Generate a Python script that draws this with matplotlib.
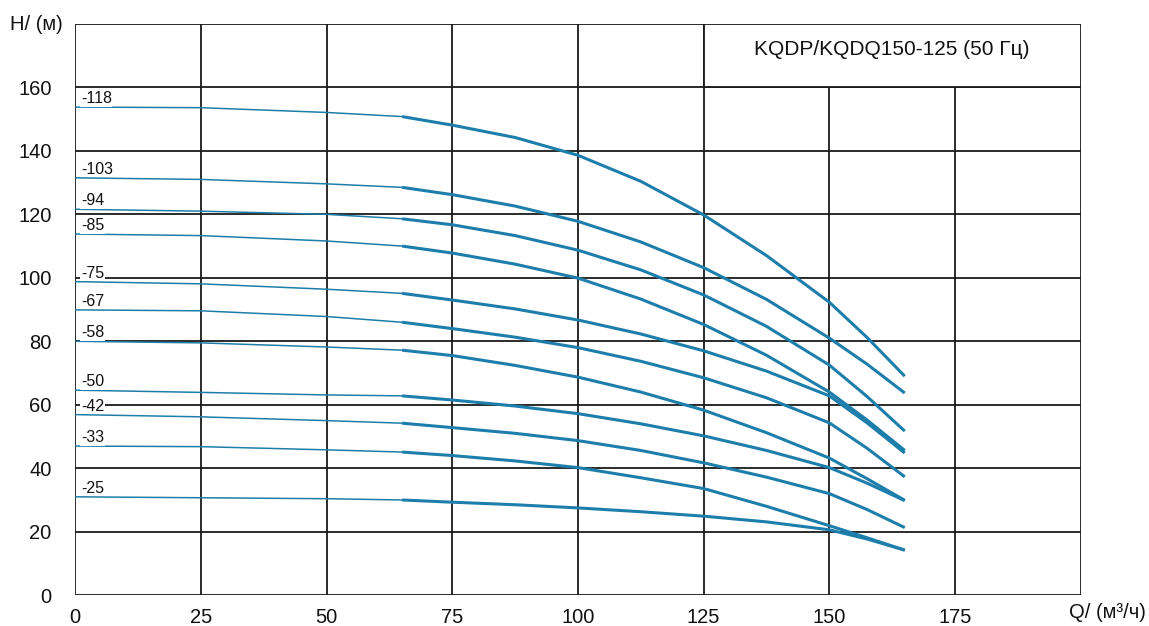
import matplotlib.pyplot as plt
from matplotlib.patches import Rectangle

plt.rcParams['font.family'] = ['Liberation Sans', 'DejaVu Sans']

# расход, м3/ч
q = [0, 25, 50, 65, 75, 87.5, 100, 112.5, 125, 137.5, 150, 157.5, 165]

# напор, м (по кривым)
h_118 = [153.8, 153.6, 152.1, 150.8, 148.1, 144.2, 138.6, 130.4, 119.8, 107.0, 92.3, 81.2, 69.0]
h_103 = [131.5, 131.0, 129.6, 128.5, 126.2, 122.6, 117.8, 111.3, 103.2, 93.2, 81.0, 72.8, 63.7]
h_94 = [121.6, 121.0, 120.0, 118.6, 116.7, 113.3, 108.7, 102.5, 94.6, 84.7, 72.5, 62.6, 51.7]
h_85 = [113.8, 113.3, 111.6, 110.0, 107.8, 104.3, 99.9, 93.3, 85.3, 75.6, 64.0, 55.2, 45.6]
h_75 = [98.8, 98.1, 96.4, 95.1, 93.0, 90.2, 86.7, 82.3, 77.0, 70.6, 62.8, 54.3, 44.8]
h_67 = [89.9, 89.6, 87.8, 86.0, 84.0, 81.3, 78.0, 73.7, 68.5, 62.2, 54.3, 46.3, 37.3]
h_58 = [80.0, 79.5, 78.2, 77.2, 75.5, 72.4, 68.7, 64.0, 58.3, 51.2, 43.2, 36.7, 29.9]
h_50 = [64.6, 63.9, 63.1, 62.8, 61.5, 59.6, 57.2, 54.0, 50.2, 45.6, 40.2, 35.3, 29.8]
h_42 = [56.9, 56.2, 55.0, 54.2, 52.8, 51.0, 48.7, 45.6, 41.7, 37.2, 32.0, 27.0, 21.3]
h_33 = [47.0, 46.8, 45.8, 45.1, 44.0, 42.3, 40.2, 37.0, 33.6, 28.0, 21.9, 18.1, 14.2]
h_25 = [31.0, 30.7, 30.4, 30.0, 29.3, 28.5, 27.5, 26.3, 24.9, 23.1, 20.6, 17.7, 14.2]

names = ['-118', '-103', '-94', '-85', '-75', '-67', '-58', '-50', '-42', '-33', '-25']
curves = [h_118, h_103, h_94, h_85, h_75, h_67, h_58, h_50, h_42, h_33, h_25]

x_ticks = [0, 25, 50, 75, 100, 125, 150, 175, 200]
y_ticks = [0, 20, 40, 60, 80, 100, 120, 140, 160, 180]

fig = plt.figure(figsize=(11.49, 6.26), dpi=100)
ax = fig.add_axes([75.3 / 1149, 30.8 / 626, (1080.7 - 75.3) / 1149, 571.3 / 626])
ax.set_xlim(0, 200)
ax.set_ylim(0, 180)

# сетка
for xv in x_ticks:
    ax.axvline(xv, color='#1a1a1a', lw=1.3, zorder=1)
for yv in y_ticks:
    ax.axhline(yv, color='#1a1a1a', lw=1.3, zorder=1)

# рамка с названием
ax.add_patch(Rectangle((125, 160), 75, 20, facecolor='white', edgecolor='#1a1a1a',
                       lw=1.3, zorder=2))
ax.text(162.5, 172, 'KQDP/KQDQ150-125 (50 Гц)', ha='center', va='center',
        fontsize=15, color='#111111', zorder=3)

color = '#1e7eab'
split = q.index(65)
for name, h in zip(names, curves):
    ax.plot(q[:split + 1], h[:split + 1], color=color, lw=1.1, zorder=4,
            solid_capstyle='butt', solid_joinstyle='round')
    ax.plot(q[split:], h[split:], color=color, lw=2.2, zorder=4,
            solid_capstyle='butt', solid_joinstyle='round')
    ax.text(1.1, h[0] + 2.7, name, ha='left', va='center', fontsize=11.5,
            color='#111111', zorder=5,
            bbox=dict(facecolor='white', edgecolor='none', pad=0.5))

ax.set_xticks(x_ticks[:-1])
ax.set_yticks(y_ticks[:-1])
ax.tick_params(length=0, labelsize=14.5, colors='#111111')
ax.tick_params(axis='y', pad=17)
ax.tick_params(axis='x', pad=9)
for s in ax.spines.values():
    s.set_visible(False)

fig.text(10 / 1149, 1 - 24 / 626, 'H/ (м)', ha='left', va='center', fontsize=14.5,
         color='#111111')
fig.text(1146 / 1149, 1 - 613 / 626, 'Q/ (м³/ч)', ha='right', va='center',
         fontsize=14.5, color='#111111')

fig.savefig('out.png', dpi=100, facecolor='white')
